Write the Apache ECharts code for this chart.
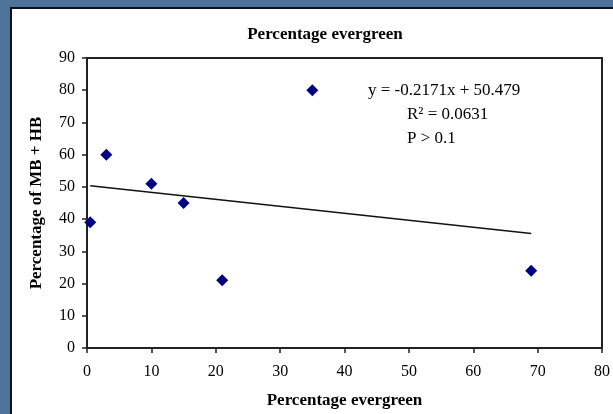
<!DOCTYPE html>
<html>
<head>
<meta charset="utf-8">
<script src="https://cdn.jsdelivr.net/npm/echarts@6/dist/echarts.min.js"></script>
<style>
  html, body { margin: 0; padding: 0; background: #4f7298; }
  #chart { width: 613px; height: 414px; }
</style>
</head>
<body>
<div id="chart"></div>
<script>
// data
var evergreen = [0.5, 3, 10, 15, 21, 35, 69];
var mbhb = [39, 60, 51, 45, 21, 80, 24];
var xTicks = [0, 10, 20, 30, 40, 50, 60, 70, 80];
var yTicks = [0, 10, 20, 30, 40, 50, 60, 70, 80, 90];
// trendline as printed on the chart
var slope = -0.2171;
var intercept = 50.479;
var statLines = ['y = -0.2171x + 50.479', 'R² = 0.0631', 'P > 0.1'];

var points = [];
for (var i = 0; i < evergreen.length; i++) {
    points.push([evergreen[i], mbhb[i]]);
}
var xMin = Math.min.apply(null, evergreen);
var xMax = Math.max.apply(null, evergreen);
var trend = [[xMin, slope * xMin + intercept], [xMax, slope * xMax + intercept]];

var serif = "'Liberation Serif', 'Times New Roman', serif";

var myChart = echarts.init(document.getElementById('chart'));
var option = {
    backgroundColor: 'transparent',
    animation: false,
    title: {
        text: 'Percentage evergreen',
        left: 320,
        top: 21,
        textAlign: 'center',
        textStyle: { fontFamily: serif, fontWeight: 'bold', fontSize: 17, color: '#000' }
    },
    graphic: [
        {
            // white panel with dark frame
            type: 'rect', z: -10, silent: true,
            shape: { x: 11, y: 8, width: 620, height: 420 },
            style: { fill: '#fff', stroke: '#111', lineWidth: 2 }
        },
        {
            type: 'text', left: 368, top: 82, z: 10,
            style: { text: statLines[0], font: '17px ' + serif, fill: '#000' }
        },
        {
            type: 'text', left: 407, top: 106, z: 10,
            style: { text: statLines[1], font: '17px ' + serif, fill: '#000' }
        },
        {
            type: 'text', left: 407, top: 130, z: 10,
            style: { text: statLines[2], font: '17px ' + serif, fill: '#000' }
        }
    ],
    grid: {
        left: 87,
        top: 58,
        width: 518,
        height: 290,
        show: true,
        borderColor: '#222',
        borderWidth: 2,
        backgroundColor: '#fff'
    },
    xAxis: {
        type: 'value',
        min: xTicks[0],
        max: xTicks[xTicks.length - 1],
        interval: 10,
        name: 'Percentage evergreen',
        nameLocation: 'middle',
        nameGap: 44,
        nameTextStyle: { fontFamily: serif, fontWeight: 'bold', fontSize: 17, color: '#000' },
        splitLine: { show: false },
        axisLine: { lineStyle: { color: '#222', width: 2 } },
        axisTick: { length: 5, lineStyle: { color: '#222', width: 1.5 } },
        axisLabel: { margin: 16, fontFamily: serif, fontSize: 16, color: '#000' }
    },
    yAxis: {
        type: 'value',
        min: yTicks[0],
        max: yTicks[yTicks.length - 1],
        interval: 10,
        name: 'Percentage of MB + HB',
        nameLocation: 'middle',
        nameGap: 42,
        nameTextStyle: { fontFamily: serif, fontWeight: 'bold', fontSize: 17, color: '#000' },
        splitLine: { show: false },
        axisLine: { lineStyle: { color: '#222', width: 2 } },
        axisTick: { length: 5, lineStyle: { color: '#222', width: 1.5 } },
        axisLabel: { margin: 12, fontFamily: serif, fontSize: 16, color: '#000' }
    },
    series: [
        {
            type: 'line',
            data: trend,
            symbol: 'none',
            lineStyle: { color: '#111', width: 1.5 },
            z: 2
        },
        {
            type: 'scatter',
            data: points,
            symbol: 'diamond',
            symbolSize: 12,
            itemStyle: { color: '#000080', opacity: 1 },
            z: 3
        }
    ]
};

myChart.setOption(option);
</script>
</body>
</html>
